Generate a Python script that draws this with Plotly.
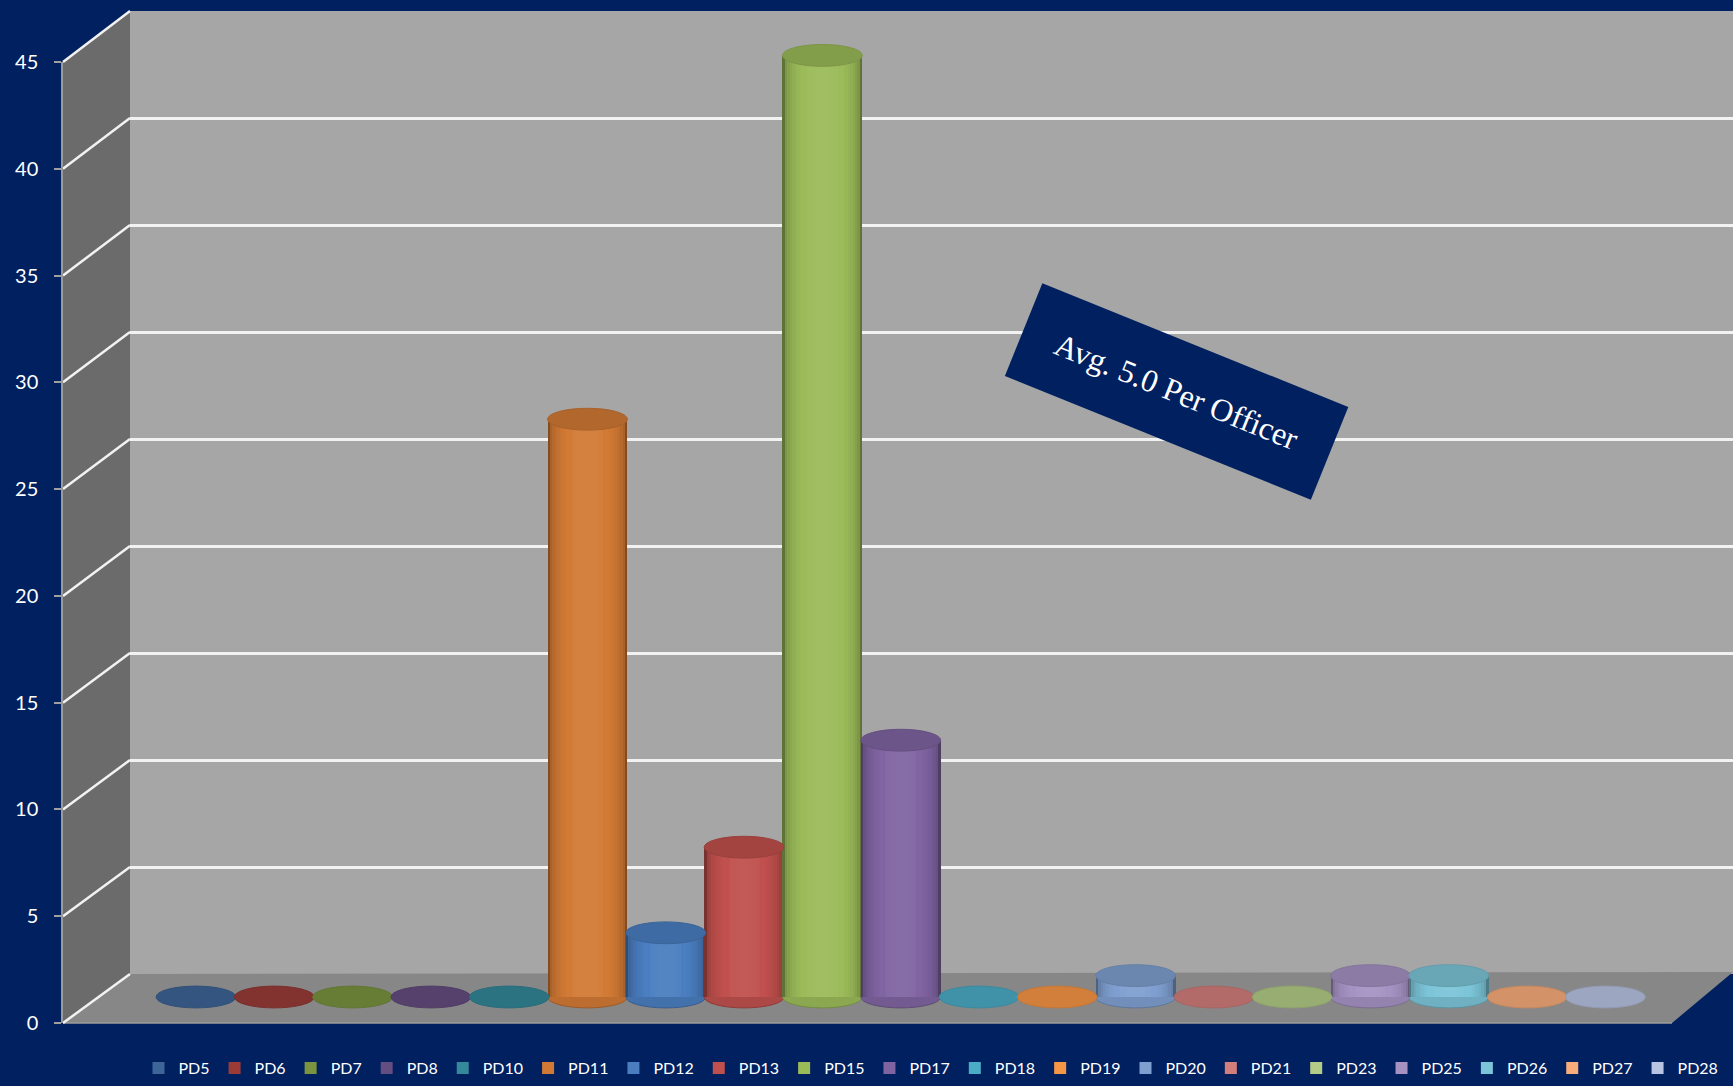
import math
import plotly.graph_objects as go

# ---------------- data ----------------
categories = ['PD5', 'PD6', 'PD7', 'PD8', 'PD10', 'PD11', 'PD12', 'PD13', 'PD15',
              'PD17', 'PD18', 'PD19', 'PD20', 'PD21', 'PD23', 'PD25', 'PD26', 'PD27', 'PD28']
values = [0, 0, 0, 0, 0, 27, 3, 7, 44, 12, 0, 0, 1, 0, 0, 1, 1, 0, 0]
colors = ['#3E6597', '#9A3B38', '#7A9440', '#644D80', '#34889A', '#D27A35', '#4A7EC0',
          '#C0504D', '#9BBB59', '#8064A2', '#4BACC6', '#F79646', '#7F9FD0', '#D27F7C',
          '#B3CC87', '#A592C3', '#7CC5D8', '#F9AC7A', '#B8C4E2']
y_ticks = [0, 5, 10, 15, 20, 25, 30, 35, 40, 45]
avg_label = 'Avg. 5.0 Per Officer'

# ---------------- helpers ----------------
W, H = 1733, 1086
NAVY = '#002060'


def px(x, y):
    return x / W, 1 - y / H


def shade(hexc, f):
    r, g, b = int(hexc[1:3], 16), int(hexc[3:5], 16), int(hexc[5:7], 16)
    if f <= 1:
        r, g, b = r * f, g * f, b * f
    else:
        t = f - 1
        r, g, b = r + (255 - r) * t, g + (255 - g) * t, b + (255 - b) * t
    return 'rgb(%d,%d,%d)' % (min(255, r), min(255, g), min(255, b))


# geometry of the pseudo-3D box (pixels)
FX, BX = 63, 130              # front / back edge of left wall
F0, F45 = 1023, 62            # front edge: y of 0 and 45
B0, B45 = 974, 11             # back wall: y of 0 and 45

fig = go.Figure()

# dummy traces so the helper subplots are rendered
fig.add_trace(go.Scatter(x=[None], y=[None], xaxis='x', yaxis='y', showlegend=False, hoverinfo='skip'))
fig.add_trace(go.Scatter(x=[None], y=[None], xaxis='x2', yaxis='y2', showlegend=False, hoverinfo='skip'))

# cylinders: overlays of narrowing bars to fake round shading
BARW = 1.02
NL = 16
fracs = [1.0 - 0.92 * k / (NL - 1) for k in range(NL)]
LEG_K = 9
for i, (cat, v, c) in enumerate(zip(categories, values, colors)):
    for k, w in enumerate(fracs):
        f = 0.62 + 0.44 * math.sqrt(max(0.0, 1 - w * w)) ** 0.8
        fig.add_trace(go.Bar(
            x=[cat], y=[v], width=[BARW * w], name=cat, showlegend=(k == LEG_K),
            marker=dict(color=(c if k == LEG_K else shade(c, f)), line=dict(width=0)),
            opacity=1, xaxis='x3', yaxis='y3', hoverinfo='x+y'))

shapes = []
# walls / floor
lw = [px(FX, F0), px(FX, F45), px(BX, B45), px(BX, B0)]
shapes.append(dict(type='path', xref='paper', yref='paper', layer='below',
                   path='M %f,%f L %f,%f L %f,%f L %f,%f Z' % tuple(v for p in lw for v in p),
                   fillcolor='#6B6B6B', line=dict(width=0)))
bw = [px(BX, B45), px(W, B45), px(W, B0), px(BX, B0)]
shapes.append(dict(type='path', xref='paper', yref='paper', layer='below',
                   path='M %f,%f L %f,%f L %f,%f L %f,%f Z' % tuple(v for p in bw for v in p),
                   fillcolor='#A6A6A6', line=dict(width=0)))
fl = [px(FX, F0), px(1672, F0), px(W, B0 - 2), px(BX, B0)]
shapes.append(dict(type='path', xref='paper', yref='paper', layer='below',
                   path='M %f,%f L %f,%f L %f,%f L %f,%f Z' % tuple(v for p in fl for v in p),
                   fillcolor='#878787', line=dict(width=0)))
a, b = px(FX, F0), px(1672, F0)
shapes.append(dict(type='line', xref='paper', yref='paper', layer='below',
                   x0=a[0], y0=a[1], x1=b[0], y1=b[1], line=dict(color='#9C9C9C', width=1.5)))
# left-wall diagonal gridlines
for t in y_ticks:
    fy = F0 + (F45 - F0) * t / 45
    by = B0 + (B45 - B0) * t / 45
    a, b = px(FX, fy), px(BX, by)
    shapes.append(dict(type='line', xref='paper', yref='paper', layer='below',
                       x0=a[0], y0=a[1], x1=b[0], y1=b[1], line=dict(color='#F2F2F2', width=2.5)))

# cylinder bottoms and tops
EH = 0.51
HW = BARW / 2
for i, (v, c) in enumerate(zip(values, colors)):
    if v > 0:
        shapes.append(dict(type='circle', xref='x3', yref='y3', layer='below',
                           x0=i - HW, x1=i + HW, y0=-EH, y1=EH,
                           fillcolor=shade(c, 0.9), line=dict(color=shade(c, 0.75), width=1)))
    shapes.append(dict(type='circle', xref='x3', yref='y3', layer='above',
                       x0=i - HW, x1=i + HW, y0=v - EH, y1=v + EH,
                       fillcolor=shade(c, 0.85), line=dict(color=shade(c, 0.80), width=1)))

fig.add_annotation(text=avg_label, xref='paper', yref='paper',
                   x=1176.5 / W, y=1 - 391.75 / H, xanchor='center', yanchor='middle',
                   textangle=22, showarrow=False, bgcolor=NAVY, width=325, height=95,
                   borderpad=2, font=dict(family='Liberation Serif', size=32, color='white'))


def ydom(y_lo_px, y_hi_px):
    return [1 - y_lo_px / H, 1 - y_hi_px / H]


UNIT = (997 - 34) / 45
bar_lo = 997 + UNIT * 1       # value -1
bar_hi = 997 - UNIT * 46      # value 46
XC0, XSTEP = 196, 78.3

fig.update_layout(
    width=W, height=H,
    margin=dict(l=0, r=0, t=0, b=0, autoexpand=False),
    paper_bgcolor=NAVY, plot_bgcolor='rgba(0,0,0,0)',
    barmode='overlay', bargap=0,
    showlegend=True,
    legend=dict(orientation='h', x=138.5 / W, xanchor='left', y=1 - 1068 / H, yanchor='middle',
                bgcolor='rgba(0,0,0,0)', font=dict(family='Lato', size=16, color='white'),
                itemwidth=30, traceorder='normal'),
    xaxis=dict(domain=[BX / W, 1], range=[0, 1], visible=False, fixedrange=True, automargin=False),
    yaxis=dict(domain=ydom(B0, B45), range=[0, 45], dtick=5, tick0=0, showgrid=True,
               gridcolor='#F2F2F2', gridwidth=2.5, zeroline=False, showticklabels=False,
               ticks='', showline=False, anchor='x', fixedrange=True, automargin=False),
    xaxis2=dict(domain=[FX / W, BX / W], range=[0, 1], visible=False, anchor='y2', automargin=False),
    yaxis2=dict(domain=ydom(F0, F45), range=[0, 45], dtick=5, tick0=0, showgrid=False,
                zeroline=False, ticks='outside', ticklen=7, tickwidth=1.5, tickcolor='#A0A0A0',
                showline=True, linecolor='#9A9A9A', linewidth=1.5, anchor='x2',
                ticklabelstandoff=12, automargin=False,
                tickfont=dict(family='Lato', size=20, color='white')),
    xaxis3=dict(domain=[(XC0 - 0.6 * XSTEP) / W, (XC0 + 18.6 * XSTEP) / W],
                range=[-0.6, 18.6], type='category', categoryorder='array',
                categoryarray=categories, visible=False, anchor='y3', automargin=False),
    yaxis3=dict(domain=ydom(bar_lo, bar_hi), range=[-1, 46], visible=False, anchor='x3',
                automargin=False),
    shapes=shapes,
)

fig.write_html('out.html',
               config={'displayModeBar': False},
               post_script="document.body.style.margin='0';"
                           "document.body.style.background='#002060';"
                           "document.documentElement.style.overflow='hidden';")
